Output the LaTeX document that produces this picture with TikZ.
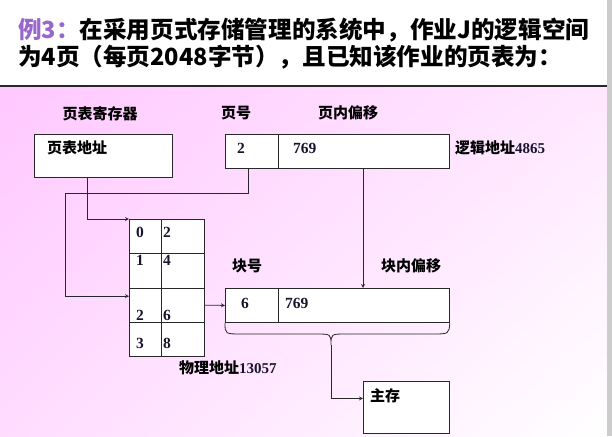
\documentclass[tikz,border=0pt]{standalone}
\usepackage{fontspec}
\usepackage{xcolor}
\setmainfont{Liberation Serif}
\newfontfamily\hei{Noto Sans CJK SC}
\usetikzlibrary{calc,shadings}

\definecolor{titlepurple}{RGB}{153,102,204}
\definecolor{numblue}{RGB}{25,20,45}
\definecolor{pinkA}{RGB}{255,200,255}
\definecolor{pinkB}{RGB}{255,232,255}
\definecolor{pinkC}{RGB}{255,220,255}
\definecolor{edge}{RGB}{40,40,40}

\tikzset{
  box/.style={draw=edge, fill=white, line width=0.8pt, inner sep=0pt, anchor=north west},
  lbl/.style={font=\hei\bfseries\fontsize{15}{15}\selectfont, inner sep=0pt},
  num/.style={font=\bfseries\fontsize{15.5}{15}\selectfont, text=numblue, inner sep=0pt},
  title/.style={font=\hei\bfseries\fontsize{23.6}{23}\selectfont, inner sep=0pt, anchor=base west},
  link/.style={draw=edge, line width=0.8pt},
}

\begin{document}
\begin{tikzpicture}[x=1pt, y=-1pt, >=stealth]
  \useasboundingbox (0,0) rectangle (612,436);
  % background
  \shade[upper left=pinkA, upper right=pinkB, lower left=pinkC, lower right=white] (0,86) rectangle (607,436);
  \fill[gray!40] (607,0) rectangle (612,436);
  \draw[edge, line width=1.2pt] (0,86) -- (607,86);

  % title
  \node[title] (t1) at (18,38) {\textcolor{titlepurple}{例3：}在采用页式存储管理的系统中，作业J的逻辑空间};
  \node[title] (t2) at (18,66) {为4页（每页2048字节），且已知该作业的页表为：};

  % page table register
  \node[lbl] (reglbl) at (100,114) {页表寄存器};
  \node[box, minimum width=138pt, minimum height=43pt] (reg) at (34,134) {};
  \node[lbl, anchor=west] (regtxt) at (47,148) {页表地址};

  % logical address
  \node[lbl] (pnlbl) at (236,113) {页号};
  \node[lbl] (polbl) at (348,113) {页内偏移};
  \node[box, minimum width=53pt, minimum height=34pt] (lpage) at (225,134) {};
  \node[box, minimum width=171pt, minimum height=34pt] (loff) at (278,134) {};
  \node[num, anchor=west] (lpagetxt) at (237,148) {2};
  \node[num, anchor=west] (lofftxt) at (293,148) {769};
  \node[lbl, anchor=west] (laddr) at (455,148) {逻辑地址\textcolor{numblue}{\rmfamily 4865}};

  % page table
  \foreach \i/\f/\dy in {0/2/-4, 1/4/-10, 2/6/10, 3/8/4} {
    \node[box, minimum width=32pt, minimum height=34.3pt] (pg\i) at (129,{219+34.3*\i}) {};
    \node[box, minimum width=43pt, minimum height=34.3pt] (fr\i) at (161,{219+34.3*\i}) {};
    \node[num, anchor=west] (pgn\i) at ($(pg\i.west)+(7,\dy)$) {\i};
    \node[num, anchor=west] (frn\i) at ($(fr\i.west)+(2,\dy)$) {\f};
  }

  % physical address
  \node[lbl] (bnlbl) at (247,266) {块号};
  \node[lbl] (bolbl) at (411,266) {块内偏移};
  \node[box, minimum width=53pt, minimum height=34pt] (pblk) at (225,288) {};
  \node[box, minimum width=171pt, minimum height=34pt] (poff) at (278,288) {};
  \node[num, anchor=west] (pblktxt) at (241,303) {6};
  \node[num, anchor=west] (pofftxt) at (285,303) {769};
  \node[lbl, anchor=west] (paddr) at (179,368) {物理地址\textcolor{numblue}{\rmfamily 13057}};

  % main memory
  \node[box, minimum width=86pt, minimum height=52pt] (mem) at (363,381) {};
  \node[lbl, anchor=west] (memtxt) at (370,396) {主存};

  % connectors
  \coordinate (bend) at (65,193);
  \coordinate (tip) at (331,345);
  \draw[link,->] ([xshift=-16pt]reg.south) |- (pg0.north west);
  \draw[link,->] ([xshift=-4pt]lpage.south) |- (bend) |- ([yshift=9pt]pg2.west);
  \draw[link,->] (fr2.east) -- (pblk.west);
  \draw[link,->] (loff.south -| mem.west) -- (poff.north -| mem.west);
  \draw[link] (pblk.south west) .. controls (225,334) .. (242,334) -- (316,334)
    .. controls (331,334) .. (tip) .. controls (331,334) .. (346,334) -- (432,334)
    .. controls (449,334) .. (poff.south east);
  \draw[link,->] (tip) |- ([yshift=9pt]mem.west);
\end{tikzpicture}
\end{document}
